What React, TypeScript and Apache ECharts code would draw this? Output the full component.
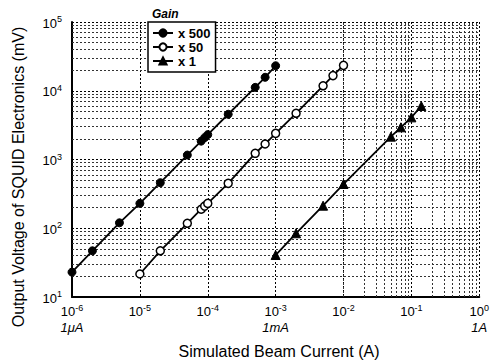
import React, { useEffect, useRef } from "react";
import * as echarts from "echarts";

const FONT = "'Liberation Sans', Arial, Helvetica, sans-serif";

// Gain x 500 (filled circles)
const gain500X = [1e-6, 2e-6, 5e-6, 1e-5, 2e-5, 5e-5, 8e-5, 9e-5, 1e-4, 2e-4, 5e-4, 7e-4, 1e-3];
const gain500Y = [23, 47, 120, 230, 460, 1160, 1850, 2080, 2300, 4550, 11200, 15700, 23100];

// Gain x 50 (open circles)
const gain50X = [1e-5, 2e-5, 5e-5, 8e-5, 9e-5, 1e-4, 2e-4, 5e-4, 7e-4, 1e-3, 2e-3, 5e-3, 7e-3, 1e-2];
const gain50Y = [21.6, 47, 118, 189, 210, 230, 450, 1230, 1680, 2400, 4700, 11800, 16600, 23400];

// Gain x 1 (triangles)
const gain1X = [1e-3, 2e-3, 5e-3, 1e-2, 5e-2, 7e-2, 1e-1, 1.4e-1];
const gain1Y = [40.8, 84.5, 213, 440, 2150, 2940, 4100, 6000];

const seriesNames = ["x 500", "x 50", "x 1"];

// axis ranges (decade exponents)
const xDecades = [-6, -5, -4, -3, -2, -1, 0];
const yDecades = [1, 2, 3, 4, 5];
const minorMultipliers = [2, 3, 4, 5, 6, 7, 8, 9];
const xUnitLabels: Record<number, string> = { [-6]: "1μA", [-3]: "1mA", [0]: "1A" };

const xTitle = "Simulated Beam Current (A)";
const yTitle = "Output Voltage of SQUID Electronics (mV)";
const legendTitle = "Gain";

function zip(xs: number[], ys: number[]) {
  return xs.map((x, i) => [x, ys[i]]);
}

export default function App() {
  const ref = useRef<HTMLDivElement>(null);
  useEffect(() => {
    if (!ref.current) return;
    const chart = echarts.init(ref.current, undefined, { renderer: "svg" });

    const minorX: number[] = [];
    xDecades.slice(0, -1).forEach((d) => minorMultipliers.forEach((m) => minorX.push(m * Math.pow(10, d))));
    const minorY: number[] = [];
    yDecades.slice(0, -1).forEach((d) => minorMultipliers.forEach((m) => minorY.push(m * Math.pow(10, d))));

    const supRich = {
      b: { fontSize: 13, fontFamily: FONT, color: "#000", verticalAlign: "bottom" },
      s: { fontSize: 9, fontFamily: FONT, color: "#000", verticalAlign: "top", padding: [0, 0, 6, 0] },
      i: { fontSize: 13, fontFamily: FONT, color: "#000", fontStyle: "italic", lineHeight: 18 },
    };

    const lineCommon = {
      type: "line",
      lineStyle: { color: "#000", width: 1.8 },
      symbolSize: 8,
      z: 3,
    };

    chart.setOption({
      animation: false,
      backgroundColor: "#fff",
      textStyle: { fontFamily: FONT },
      grid: { left: 72, right: 10, top: 22, bottom: 64, containLabel: false },
      legend: {
        data: seriesNames,
        orient: "vertical",
        left: 148,
        top: 22,
        padding: [4, 5, 4, 4],
        itemGap: 0,
        itemWidth: 20,
        itemHeight: 9,
        backgroundColor: "#fff",
        borderColor: "#000",
        borderWidth: 1.5,
        borderRadius: 0,
        textStyle: { fontFamily: FONT, fontSize: 13, fontWeight: "bold", color: "#000", lineHeight: 14 },
        z: 10,
      },
      graphic: [
        {
          type: "text",
          left: 152,
          top: 8,
          style: { text: legendTitle, font: `italic bold 12px ${FONT}`, fill: "#000" },
          z: 10,
        },
        {
          type: "text",
          x: 18,
          y: 177,
          rotation: Math.PI / 2,
          style: {
            text: yTitle,
            font: `16px ${FONT}`,
            fill: "#000",
            textAlign: "center",
            textVerticalAlign: "middle",
          },
        },
        {
          type: "text",
          x: 279,
          y: 351,
          style: {
            text: xTitle,
            font: `16px ${FONT}`,
            fill: "#000",
            textAlign: "center",
            textVerticalAlign: "middle",
          },
        },
      ],
      xAxis: {
        type: "log",
        logBase: 10,
        min: Math.pow(10, xDecades[0]),
        max: Math.pow(10, xDecades[xDecades.length - 1]),
        splitNumber: xDecades.length - 1,
        axisLine: { show: true, onZero: false, lineStyle: { color: "#000", width: 2 } },
        axisTick: { show: false },
        splitLine: { show: true, lineStyle: { color: "#000", type: [2, 2], width: 1 } },
        axisLabel: {
          margin: 6,
          color: "#000",
          formatter: (v: number) => {
            const e = Math.round(Math.log10(v));
            const unit = xUnitLabels[e];
            return `{b|10}{s|${e}}` + (unit ? `\n{i|${unit}}` : "");
          },
          rich: supRich,
        },
      },
      yAxis: {
        type: "log",
        logBase: 10,
        min: Math.pow(10, yDecades[0]),
        max: Math.pow(10, yDecades[yDecades.length - 1]),
        splitNumber: yDecades.length - 1,
        axisLine: { show: true, onZero: false, lineStyle: { color: "#000", width: 2 } },
        axisTick: { show: false },
        splitLine: { show: true, lineStyle: { color: "#000", type: [2, 2], width: 1 } },
        axisLabel: {
          margin: 10,
          color: "#000",
          formatter: (v: number) => `{b|10}{s|${Math.round(Math.log10(v))}}`,
          rich: supRich,
        },
      },
      series: [
        {
          name: "grid",
          type: "line",
          data: [],
          silent: true,
          markLine: {
            silent: true,
            symbol: ["none", "none"],
            animation: false,
            z: 1,
            label: { show: false },
            lineStyle: { color: "#333", type: [2, 2], width: 1 },
            data: [
              ...minorX.map((v) => ({ xAxis: v })),
              ...minorY.map((v) => ({ yAxis: v })),
            ],
          },
        },
        {
          ...lineCommon,
          name: seriesNames[0],
          data: zip(gain500X, gain500Y),
          symbol: "circle",
          itemStyle: { color: "#000", borderColor: "#000", borderWidth: 1 },
        },
        {
          ...lineCommon,
          name: seriesNames[1],
          data: zip(gain50X, gain50Y),
          symbol: "circle",
          itemStyle: { color: "#fff", borderColor: "#000", borderWidth: 1.5 },
        },
        {
          ...lineCommon,
          name: seriesNames[2],
          data: zip(gain1X, gain1Y),
          symbol: "triangle",
          symbolSize: 9,
          itemStyle: { color: "#000", borderColor: "#000", borderWidth: 1 },
        },
      ],
    });
    return () => chart.dispose();
  }, []);
  return <div ref={ref} style={{ position: "fixed", left: 0, top: 0, width: 492, height: 361 }} />;
}
